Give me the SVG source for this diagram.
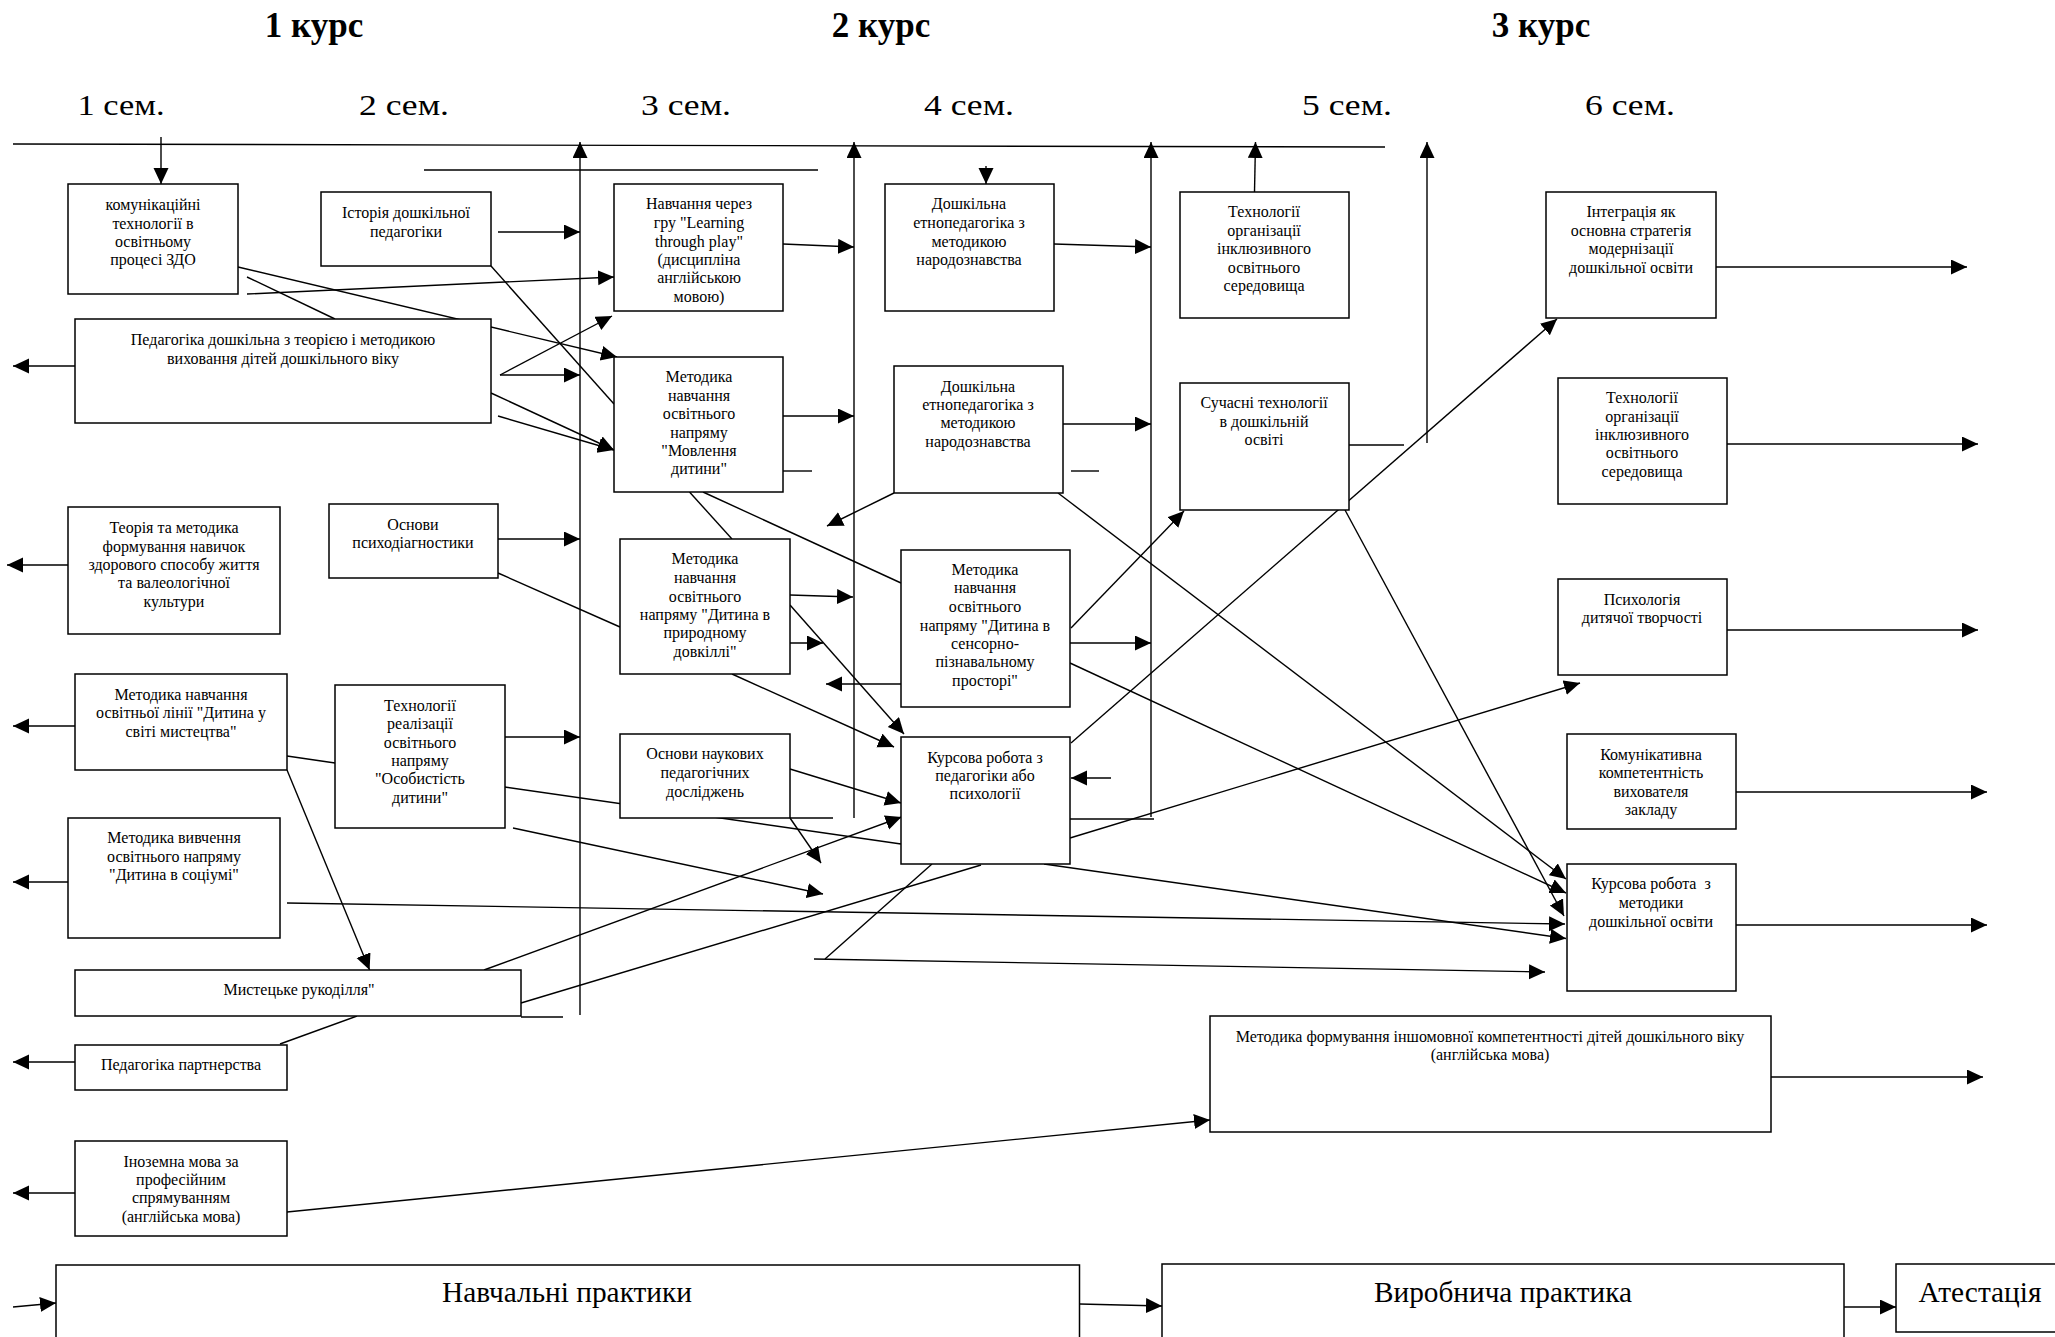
<svg xmlns="http://www.w3.org/2000/svg" width="2055" height="1337" viewBox="0 0 2055 1337">
<style>
.bx{fill:#fff;stroke:#000;stroke-width:1.5}
.t{font-family:"Liberation Serif","Times New Roman",serif;font-size:16px;fill:#000;text-anchor:middle}
.hd{font-family:"Liberation Serif","Times New Roman",serif;font-size:35px;font-weight:bold;fill:#000;text-anchor:middle}
.sm{font-family:"Liberation Serif","Times New Roman",serif;font-size:30px;fill:#000;text-anchor:middle}
.big{font-family:"Liberation Serif","Times New Roman",serif;font-size:30px;fill:#000;text-anchor:middle}
.c line{stroke:#000;stroke-width:1.4;fill:none}
.c .a{marker-end:url(#ah)}
</style>
<defs>
<marker id="ah" markerUnits="userSpaceOnUse" markerWidth="17" markerHeight="16" refX="16" refY="7.5" orient="auto">
<path d="M0,0 L16,7.5 L0,15 z" fill="#000"/>
</marker>
</defs>
<rect width="2055" height="1337" fill="#fff"/>

<g id="headers">
<text class="hd" x="314" y="37">1 курс</text>
<text class="hd" x="881" y="37">2 курс</text>
<text class="hd" x="1541" y="37">3 курс</text>
<text class="sm" x="121" y="115" textLength="87" lengthAdjust="spacingAndGlyphs">1 сем.</text>
<text class="sm" x="404" y="115" textLength="90" lengthAdjust="spacingAndGlyphs">2 сем.</text>
<text class="sm" x="686" y="115" textLength="90" lengthAdjust="spacingAndGlyphs">3 сем.</text>
<text class="sm" x="969" y="115" textLength="90" lengthAdjust="spacingAndGlyphs">4 сем.</text>
<text class="sm" x="1347" y="115" textLength="90" lengthAdjust="spacingAndGlyphs">5 сем.</text>
<text class="sm" x="1630" y="115" textLength="90" lengthAdjust="spacingAndGlyphs">6 сем.</text>
</g>

<g id="connectors" class="c">
<line x1="13" y1="144" x2="1385" y2="147"/>
<line x1="424" y1="170" x2="818" y2="170"/>
<line class="a" x1="161" y1="137" x2="161" y2="184"/>
<line class="a" x1="580" y1="1015" x2="580" y2="142"/>
<line class="a" x1="854" y1="818" x2="854" y2="142"/>
<line class="a" x1="1151" y1="817" x2="1151" y2="142"/>
<line class="a" x1="1254.5" y1="192" x2="1255.5" y2="142"/>
<line class="a" x1="1427" y1="443" x2="1427" y2="142"/>
<line class="a" x1="986" y1="166" x2="986" y2="184"/>

<line class="a" x1="75" y1="366" x2="13" y2="366"/>
<line class="a" x1="498" y1="232" x2="580" y2="232"/>
<line class="a" x1="238" y1="267" x2="617" y2="357"/>
<line x1="247" y1="277" x2="335" y2="319"/>
<line class="a" x1="247" y1="294" x2="614" y2="277"/>
<line x1="491" y1="266" x2="614" y2="404"/>
<line class="a" x1="500" y1="375" x2="612" y2="316"/>
<line class="a" x1="500" y1="375" x2="580" y2="375"/>
<line class="a" x1="491" y1="393" x2="614" y2="450"/>
<line class="a" x1="498" y1="416" x2="614" y2="450"/>
<line class="a" x1="68" y1="565" x2="7" y2="565"/>
<line class="a" x1="498" y1="539" x2="580" y2="539"/>
<line x1="498" y1="573" x2="620" y2="627"/>
<line class="a" x1="75" y1="726" x2="13" y2="726"/>
<line class="a" x1="504.5" y1="737" x2="580" y2="737"/>
<line x1="287" y1="756" x2="335" y2="763"/>
<line class="a" x1="287" y1="770" x2="369.6" y2="970"/>
<line x1="504.5" y1="787" x2="901" y2="844"/>
<line class="a" x1="513" y1="828" x2="823" y2="894"/>
<line class="a" x1="68" y1="882" x2="13" y2="882"/>
<line class="a" x1="287" y1="903" x2="1565" y2="924"/>
<line class="a" x1="484" y1="970" x2="901.5" y2="817"/>
<line x1="521" y1="1003" x2="981" y2="865"/>
<line x1="521" y1="1017" x2="563" y2="1017"/>
<line x1="357" y1="1016" x2="280" y2="1044"/>
<line class="a" x1="75" y1="1062" x2="13" y2="1062"/>
<line class="a" x1="75" y1="1193" x2="13" y2="1193"/>
<line class="a" x1="287" y1="1212" x2="1210" y2="1120"/>
<line class="a" x1="13" y1="1307" x2="56" y2="1303"/>

<line class="a" x1="783" y1="244" x2="854" y2="247"/>
<line class="a" x1="783" y1="416" x2="854" y2="416"/>
<line x1="783" y1="471" x2="812" y2="471"/>
<line x1="689.5" y1="492" x2="732" y2="539"/>
<line x1="703" y1="492" x2="901" y2="583"/>
<line class="a" x1="790" y1="595" x2="853" y2="597"/>
<line class="a" x1="790" y1="643" x2="823" y2="643"/>
<line class="a" x1="790" y1="605" x2="904" y2="734"/>
<line class="a" x1="732" y1="674" x2="894" y2="747"/>
<line class="a" x1="790" y1="769" x2="901" y2="803"/>
<line x1="790" y1="818" x2="833" y2="818"/>
<line class="a" x1="790" y1="818" x2="821" y2="863"/>

<line class="a" x1="1054" y1="244" x2="1151" y2="247"/>
<line class="a" x1="1063" y1="424" x2="1151" y2="424"/>
<line x1="1071" y1="471" x2="1099" y2="471"/>
<line class="a" x1="894" y1="493" x2="827" y2="526"/>
<line class="a" x1="1058" y1="493" x2="1566" y2="879"/>
<line class="a" x1="901" y1="684" x2="826" y2="684"/>
<line class="a" x1="1070" y1="643" x2="1151" y2="643"/>
<line class="a" x1="1071" y1="628" x2="1184" y2="511"/>
<line class="a" x1="1070" y1="663" x2="1566" y2="893"/>
<line class="a" x1="1071" y1="743" x2="1557" y2="319"/>
<line class="a" x1="1111" y1="778" x2="1071" y2="778"/>
<line x1="1070" y1="819" x2="1154" y2="819"/>
<line class="a" x1="1070" y1="838" x2="1580" y2="683"/>
<line class="a" x1="1044" y1="864" x2="1566" y2="938.5"/>
<line x1="932" y1="864" x2="825" y2="959"/>
<line class="a" x1="814" y1="959" x2="1545" y2="972"/>

<line x1="1349" y1="445" x2="1404" y2="445"/>
<line class="a" x1="1345" y1="510" x2="1564" y2="916"/>
<line class="a" x1="1716" y1="267" x2="1967" y2="267"/>
<line class="a" x1="1727" y1="444" x2="1978" y2="444"/>
<line class="a" x1="1727" y1="630" x2="1978" y2="630"/>
<line class="a" x1="1736" y1="792" x2="1987" y2="792"/>
<line class="a" x1="1736" y1="925" x2="1987" y2="925"/>
<line class="a" x1="1771" y1="1077" x2="1983" y2="1077"/>
<line class="a" x1="1079.5" y1="1304" x2="1162" y2="1306"/>
<line class="a" x1="1844" y1="1307" x2="1896" y2="1307"/>
</g>

<g id="n1"><rect class="bx" x="68" y="184" width="170" height="110"/>
<text class="t"><tspan x="153" y="210">комунікаційні</tspan><tspan x="153" y="228.5">технології в</tspan><tspan x="153" y="247">освітньому</tspan><tspan x="153" y="265">процесі ЗДО</tspan></text></g>
<g id="n2"><rect class="bx" x="321" y="192" width="170" height="74"/>
<text class="t"><tspan x="406" y="218">Історія дошкільної</tspan><tspan x="406" y="236.5">педагогіки</tspan></text></g>
<g id="n3"><rect class="bx" x="75" y="319" width="416" height="104"/>
<text class="t"><tspan x="283" y="345">Педагогіка дошкільна з теорією і методикою</tspan><tspan x="283" y="364">виховання дітей дошкільного віку</tspan></text></g>
<g id="n4"><rect class="bx" x="68" y="507" width="212" height="127"/>
<text class="t"><tspan x="174" y="533">Теорія та методика</tspan><tspan x="174" y="552">формування навичок</tspan><tspan x="174" y="570">здорового способу життя</tspan><tspan x="174" y="588">та валеологічної</tspan><tspan x="174" y="607">культури</tspan></text></g>
<g id="n5"><rect class="bx" x="329" y="504" width="169" height="74"/>
<text class="t"><tspan x="413" y="530">Основи</tspan><tspan x="413" y="548">психодіагностики</tspan></text></g>
<g id="n6"><rect class="bx" x="75" y="674" width="212" height="96"/>
<text class="t"><tspan x="181" y="700">Методика навчання</tspan><tspan x="181" y="718">освітньої лінії "Дитина у</tspan><tspan x="181" y="737">світі мистецтва"</tspan></text></g>
<g id="n7"><rect class="bx" x="335" y="685" width="170" height="143"/>
<text class="t"><tspan x="420" y="711">Технології</tspan><tspan x="420" y="729">реалізації</tspan><tspan x="420" y="748">освітнього</tspan><tspan x="420" y="766">напряму</tspan><tspan x="420" y="784">"Особистість</tspan><tspan x="420" y="803">дитини"</tspan></text></g>
<g id="n8"><rect class="bx" x="68" y="818" width="212" height="120"/>
<text class="t"><tspan x="174" y="843">Методика вивчення</tspan><tspan x="174" y="862">освітнього напряму</tspan><tspan x="174" y="880">"Дитина в соціумі"</tspan></text></g>
<g id="n9"><rect class="bx" x="75" y="970" width="446" height="46"/>
<text class="t"><tspan x="299" y="995">Мистецьке рукоділля"</tspan></text></g>
<g id="n10"><rect class="bx" x="75" y="1045" width="212" height="45"/>
<text class="t"><tspan x="181" y="1070">Педагогіка партнерства</tspan></text></g>
<g id="n11"><rect class="bx" x="75" y="1141" width="212" height="95"/>
<text class="t"><tspan x="181" y="1167">Іноземна мова за</tspan><tspan x="181" y="1185">професійним</tspan><tspan x="181" y="1203">спрямуванням</tspan><tspan x="181" y="1222">(англійська мова)</tspan></text></g>

<g id="n12"><rect class="bx" x="614" y="184" width="169" height="127"/>
<text class="t"><tspan x="699" y="209">Навчання через</tspan><tspan x="699" y="228">гру "Learning</tspan><tspan x="699" y="247">through play"</tspan><tspan x="699" y="265">(дисципліна</tspan><tspan x="699" y="283">англійською</tspan><tspan x="699" y="302">мовою)</tspan></text></g>
<g id="n13"><rect class="bx" x="614" y="357" width="169" height="135"/>
<text class="t"><tspan x="699" y="382">Методика</tspan><tspan x="699" y="401">навчання</tspan><tspan x="699" y="419">освітнього</tspan><tspan x="699" y="438">напряму</tspan><tspan x="699" y="456">"Мовлення</tspan><tspan x="699" y="474">дитини"</tspan></text></g>
<g id="n14"><rect class="bx" x="620" y="539" width="170" height="135"/>
<text class="t"><tspan x="705" y="564">Методика</tspan><tspan x="705" y="583">навчання</tspan><tspan x="705" y="602">освітнього</tspan><tspan x="705" y="620">напряму "Дитина в</tspan><tspan x="705" y="638">природному</tspan><tspan x="705" y="657">довкіллі"</tspan></text></g>
<g id="n15"><rect class="bx" x="620" y="734" width="170" height="84"/>
<text class="t"><tspan x="705" y="759">Основи наукових</tspan><tspan x="705" y="778">педагогічних</tspan><tspan x="705" y="797">досліджень</tspan></text></g>

<g id="n16"><rect class="bx" x="885" y="184" width="169" height="127"/>
<text class="t"><tspan x="969" y="209">Дошкільна</tspan><tspan x="969" y="228">етнопедагогіка з</tspan><tspan x="969" y="247">методикою</tspan><tspan x="969" y="265">народознавства</tspan></text></g>
<g id="n17"><rect class="bx" x="894" y="366" width="169" height="127"/>
<text class="t"><tspan x="978" y="392">Дошкільна</tspan><tspan x="978" y="410">етнопедагогіка з</tspan><tspan x="978" y="428">методикою</tspan><tspan x="978" y="447">народознавства</tspan></text></g>
<g id="n18"><rect class="bx" x="901" y="550" width="169" height="157"/>
<text class="t"><tspan x="985" y="575">Методика</tspan><tspan x="985" y="593">навчання</tspan><tspan x="985" y="612">освітнього</tspan><tspan x="985" y="631">напряму "Дитина в</tspan><tspan x="985" y="649">сенсорно-</tspan><tspan x="985" y="667">пізнавальному</tspan><tspan x="985" y="686">просторі"</tspan></text></g>
<g id="n19"><rect class="bx" x="901" y="737" width="169" height="127"/>
<text class="t"><tspan x="985" y="763">Курсова робота з</tspan><tspan x="985" y="781">педагогіки або</tspan><tspan x="985" y="799">психології</tspan></text></g>

<g id="n20"><rect class="bx" x="1180" y="192" width="169" height="126"/>
<text class="t"><tspan x="1264" y="217">Технології</tspan><tspan x="1264" y="236">організації</tspan><tspan x="1264" y="254">інклюзивного</tspan><tspan x="1264" y="273">освітнього</tspan><tspan x="1264" y="291">середовища</tspan></text></g>
<g id="n21"><rect class="bx" x="1180" y="383" width="169" height="127"/>
<text class="t"><tspan x="1264" y="408">Сучасні технології</tspan><tspan x="1264" y="427">в дошкільній</tspan><tspan x="1264" y="445">освіті</tspan></text></g>

<g id="n22"><rect class="bx" x="1546" y="192" width="170" height="126"/>
<text class="t"><tspan x="1631" y="217">Інтеграція як</tspan><tspan x="1631" y="236">основна стратегія</tspan><tspan x="1631" y="254">модернізації</tspan><tspan x="1631" y="273">дошкільної освіти</tspan></text></g>
<g id="n23"><rect class="bx" x="1558" y="378" width="169" height="126"/>
<text class="t"><tspan x="1642" y="403">Технології</tspan><tspan x="1642" y="422">організації</tspan><tspan x="1642" y="440">інклюзивного</tspan><tspan x="1642" y="458">освітнього</tspan><tspan x="1642" y="477">середовища</tspan></text></g>
<g id="n24"><rect class="bx" x="1558" y="579" width="169" height="96"/>
<text class="t"><tspan x="1642" y="605">Психологія</tspan><tspan x="1642" y="623">дитячої творчості</tspan></text></g>
<g id="n25"><rect class="bx" x="1567" y="734" width="169" height="95"/>
<text class="t"><tspan x="1651" y="760">Комунікативна</tspan><tspan x="1651" y="778">компетентність</tspan><tspan x="1651" y="797">вихователя</tspan><tspan x="1651" y="815">закладу</tspan></text></g>
<g id="n26"><rect class="bx" x="1567" y="864" width="169" height="127"/>
<text class="t"><tspan x="1651" y="889">Курсова робота&#160; з</tspan><tspan x="1651" y="908">методики</tspan><tspan x="1651" y="927">дошкільної освіти</tspan></text></g>
<g id="n27"><rect class="bx" x="1210" y="1016" width="561" height="116"/>
<text class="t"><tspan x="1490" y="1042">Методика формування іншомовної компетентності дітей дошкільного віку</tspan><tspan x="1490" y="1060">(англійська мова)</tspan></text></g>

<g id="n28"><rect class="bx" x="56" y="1265" width="1023.5" height="90"/>
<text class="big" x="567" y="1302" textLength="250" lengthAdjust="spacingAndGlyphs">Навчальні практики</text></g>
<g id="n29"><rect class="bx" x="1162" y="1264" width="682" height="90"/>
<text class="big" x="1503" y="1302" textLength="258" lengthAdjust="spacingAndGlyphs">Виробнича практика</text></g>
<g id="n30"><rect class="bx" x="1896" y="1264" width="170" height="68"/>
<text class="big" x="1980" y="1302" textLength="123" lengthAdjust="spacingAndGlyphs">Атестація</text></g>
</svg>
